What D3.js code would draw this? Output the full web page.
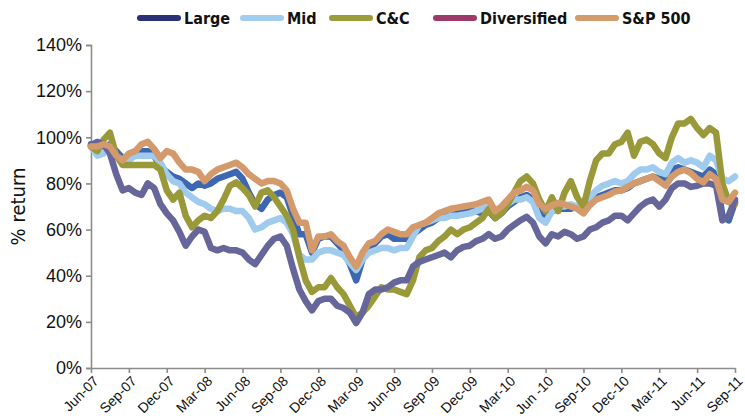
<!DOCTYPE html>
<html>
<head>
<meta charset="utf-8">
<script src="https://cdn.jsdelivr.net/npm/d3@7"></script>
<style>
  body { margin: 0; background: #fff; }
  svg { font-family: "Liberation Sans Narrow", "DejaVu Sans Condensed", "Roboto Condensed", sans-serif; }
</style>
</head>
<body>
<svg id="chart" width="745" height="418"></svg>
<script>
// Quarter tick labels (one every 3 months, points every half month)
var tickLabels = ["Jun-07", "Sep-07", "Dec-07", "Mar-08", "Jun-08", "Sep-08", "Dec-08", "Mar-09",
  "Jun-09", "Sep-09", "Dec-09", "Mar-10", "Jun -10", "Sep-10", "Dec-10", "Mar-11", "Jun-11", "Sep-11"];

// % return, every half month from Jun-07 to Sep-11
var large = [97, 97, 96, 97, 94, 91, 91, 93, 94, 94, 92, 87, 85, 83, 82, 80, 78, 80, 79, 80,
  82, 83, 84, 85, 82, 76, 71, 69, 73, 75, 76, 74, 66, 58, 58, 50, 56, 57, 57, 54,
  51, 45, 38, 47, 52, 54, 57, 58, 56, 56, 56, 58, 60, 62, 63, 65, 66, 66, 67, 68,
  68, 68, 67, 68, 65, 67, 70, 72, 74, 75, 73, 67, 66, 68, 69, 69, 69, 70, 70, 72,
  74, 75, 76, 77, 77, 78, 80, 81, 82, 83, 82, 82, 86, 87, 86, 85, 84, 83, 86, 84,
  66, 64, 72];

var mid = [96, 92, 93, 96, 92, 90, 90, 92, 92, 92, 92, 89, 84, 81, 80, 76, 74, 72, 71, 69,
  68, 69, 69, 68, 68, 65, 60, 61, 63, 64, 65, 63, 58, 49, 47, 47, 50, 51, 51, 50,
  49, 45.5, 42.5, 47, 50, 51, 52, 52, 51, 52, 52, 57, 62, 63, 64, 65, 65, 66, 66, 66.5,
  67, 68, 69, 70, 66, 68, 71, 73, 73, 74, 72, 65, 63, 68, 70, 70, 71, 70, 72, 74,
  77, 79, 80, 81, 80, 81, 84, 86, 86, 87, 85, 84, 89, 91, 89, 90, 89, 87, 92, 90,
  82, 81, 83];

var cc = [96, 94, 99, 102, 92, 88, 88, 88, 88, 88, 88, 86, 77, 73, 76, 66, 61, 64, 66, 65,
  68, 73, 79, 80.5, 78, 75, 70, 76, 77, 74, 70, 66, 60, 48, 38, 33, 35, 35, 39, 35,
  32, 27, 22, 24, 27, 31, 35, 34, 34, 33, 32, 38, 48, 51, 52, 55, 57, 60, 58, 60,
  61, 63, 65, 69, 65, 67, 71, 76, 81, 83, 80, 73, 68, 74, 68, 76, 81, 74, 70, 81,
  90, 93, 93, 97, 98, 102, 92, 98, 99, 97, 93, 91, 100, 106, 106, 108, 104, 101, 104, 102,
  80, 72, 71];

var diversified = [96.5, 98, 97, 93, 84, 77, 78, 76, 75, 80, 78, 71, 67, 64, 59, 53, 57, 60, 59, 52,
  51, 52, 51, 51, 50, 47, 45, 49, 53, 56, 57, 53, 43, 34, 29, 25, 29, 30, 30, 27,
  26, 24, 19.5, 24, 32, 34, 34, 35, 37, 38, 38, 44, 46, 47, 48, 49, 50, 48, 51, 52.5,
  53, 55, 56, 58, 56, 57, 60, 62, 64, 65.5, 63, 57, 54, 58, 57, 59, 58, 56, 57, 60,
  61, 63, 64, 66, 66, 64, 67, 70, 72, 73, 70, 73, 78, 80, 80, 78.5, 79, 80, 80, 79,
  64, 66, 73];

var sp500 = [96, 96, 97, 96, 92, 90, 93, 94, 97, 98, 95, 91, 94, 93, 89, 86, 86, 85, 81, 84,
  86, 87, 88, 89, 87, 84, 82, 80, 81, 81, 80, 77, 69, 63, 63, 51, 57, 57, 58, 55,
  53, 48, 44, 50, 54, 55, 58, 60, 59, 58, 58, 61, 62, 63, 65, 67, 68, 69, 69.5, 70,
  70.5, 71, 72, 73, 68, 70, 73, 76, 77, 78.5, 77, 71, 69, 70.5, 71.5, 71, 70, 69, 67, 70.5,
  73, 74, 75, 76.5, 77, 78.5, 80, 81, 82, 83, 81, 79, 83, 85, 86, 84.5, 82, 80.5, 84, 82,
  73, 72, 76];

var seriesNames = ["Large", "Mid", "C&C", "Diversified", "S&P 500"];
var seriesValues = [large, mid, cc, diversified, sp500];
var lineColors = ["#3e67b1", "#9ecbee", "#99993a", "#66669a", "#d49a6c"];
var legendColors = ["#2b3179", "#a3cdee", "#9c9c3a", "#9e3a6a", "#d39b69"];

var svg = d3.select("#chart");

var margin = {top: 45, right: 10, bottom: 50, left: 91},
  width = 745 - margin.left - margin.right,
  height = 368 - margin.top;

var x = d3.scaleLinear()
  .domain([0, 51])
  .range([margin.left, margin.left + width]);

var y = d3.scaleLinear()
  .domain([0, 1.4])
  .range([margin.top + height, margin.top]);

// Y axis
var yAxis = svg.append("g")
  .attr("transform", "translate(" + margin.left + ",0)")
  .call(d3.axisLeft(y)
    .tickValues(d3.range(0, 1.41, 0.2))
    .tickFormat(d3.format(".0%"))
    .tickSize(5)
    .tickPadding(4));

// X axis
var xAxis = svg.append("g")
  .attr("transform", "translate(0," + y(0) + ")")
  .call(d3.axisBottom(x)
    .tickValues(d3.range(0, 52, 3))
    .tickFormat(function (d, i) { return tickLabels[i]; })
    .tickSize(5)
    .tickSizeOuter(0));

svg.selectAll(".domain, .tick line")
  .attr("stroke", "#8c8c8c")
  .attr("stroke-width", 1.6);

yAxis.selectAll("text")
  .attr("fill", "#111")
  .style("font-size", "18px");

xAxis.selectAll("text")
  .attr("fill", "#111")
  .style("font-size", "14px")
  .style("text-anchor", "end")
  .attr("dx", "-0.3em")
  .attr("dy", "0.55em")
  .attr("transform", "rotate(-45)");

// Axis title
svg.append("text")
  .attr("transform", "rotate(-90)")
  .attr("x", -(y(0.7)))
  .attr("y", 25)
  .style("text-anchor", "middle")
  .style("font-size", "20px")
  .attr("fill", "#111")
  .text("% return");

// Lines
var line = d3.line()
  .x(function (d, i) { return x(i * 0.5); })
  .y(function (d) { return y(d / 100); });

svg.selectAll(".series")
  .data(seriesValues)
  .enter().append("path")
  .attr("class", "series")
  .attr("d", line)
  .attr("fill", "none")
  .attr("stroke", function (d, i) { return lineColors[i]; })
  .attr("stroke-width", 6.5)
  .attr("stroke-linejoin", "round")
  .attr("stroke-linecap", "round");

// Legend
var legendX = [138, 241, 330, 434, 576];
var legend = svg.selectAll(".legend")
  .data(seriesNames)
  .enter().append("g")
  .attr("class", "legend")
  .attr("transform", function (d, i) { return "translate(" + legendX[i] + ",18)"; });

legend.append("line")
  .attr("x1", 2).attr("x2", 40)
  .attr("stroke", function (d, i) { return legendColors[i]; })
  .attr("stroke-width", 6)
  .attr("stroke-linecap", "round");

legend.append("text")
  .attr("x", 46)
  .attr("dy", "0.35em")
  .style("font-size", "16px")
  .style("font-weight", "bold")
  .attr("fill", "#111")
  .text(function (d) { return d; });
</script>
</body>
</html>
